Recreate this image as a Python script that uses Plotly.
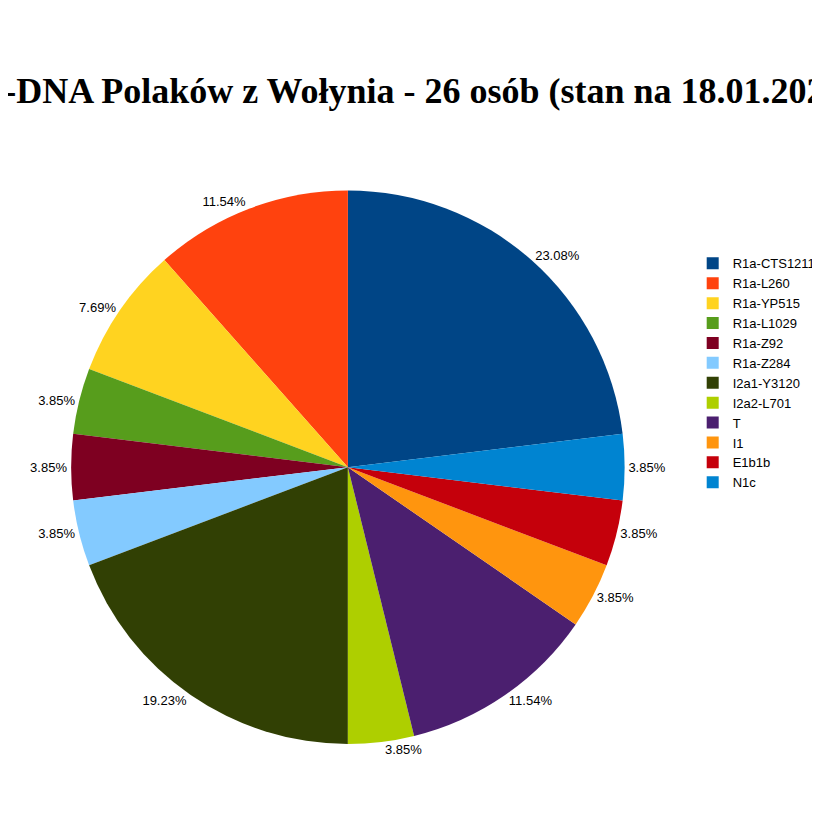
import plotly.graph_objects as go

haplogroups = ["R1a-CTS1211", "R1a-L260", "R1a-YP515", "R1a-L1029", "R1a-Z92", "R1a-Z284",
               "I2a1-Y3120", "I2a2-L701", "T", "I1", "E1b1b", "N1c"]
counts = [6, 3, 2, 1, 1, 1, 5, 1, 3, 1, 1, 1]
colors = ["#004586", "#ff420e", "#ffd320", "#579d1c", "#7e0021", "#83caff",
          "#314004", "#aecf00", "#4b1f6f", "#ff950e", "#c5000b", "#0084d1"]

fig = go.Figure(go.Pie(
    labels=haplogroups,
    values=counts,
    marker=dict(colors=colors),
    sort=False,
    direction="counterclockwise",
    rotation=0,
    texttemplate="%{percent:.2%}",
    textposition="outside",
    textfont=dict(family="Liberation Sans", size=13, color="#000000"),
    domain=dict(x=[0.077, 0.752], y=[0.091, 0.789]),
))

fig.update_layout(
    width=820, height=820,
    margin=dict(l=0, r=0, t=0, b=0),
    paper_bgcolor="white",
    title=dict(text="<b>Y-DNA Polaków z Wołynia - 26 osób (stan na 18.01.2026)</b>",
               x=0.5, xanchor="center", y=0.9, yanchor="middle",
               font=dict(family="Liberation Sans Narrow", size=36, color="#000000")),
    legend=dict(x=0.835, y=0.555, xanchor="left", yanchor="middle",
                font=dict(family="Liberation Sans", size=13, color="#000000"),
                itemwidth=30, tracegroupgap=0),
)

fig.write_html("out.html")
